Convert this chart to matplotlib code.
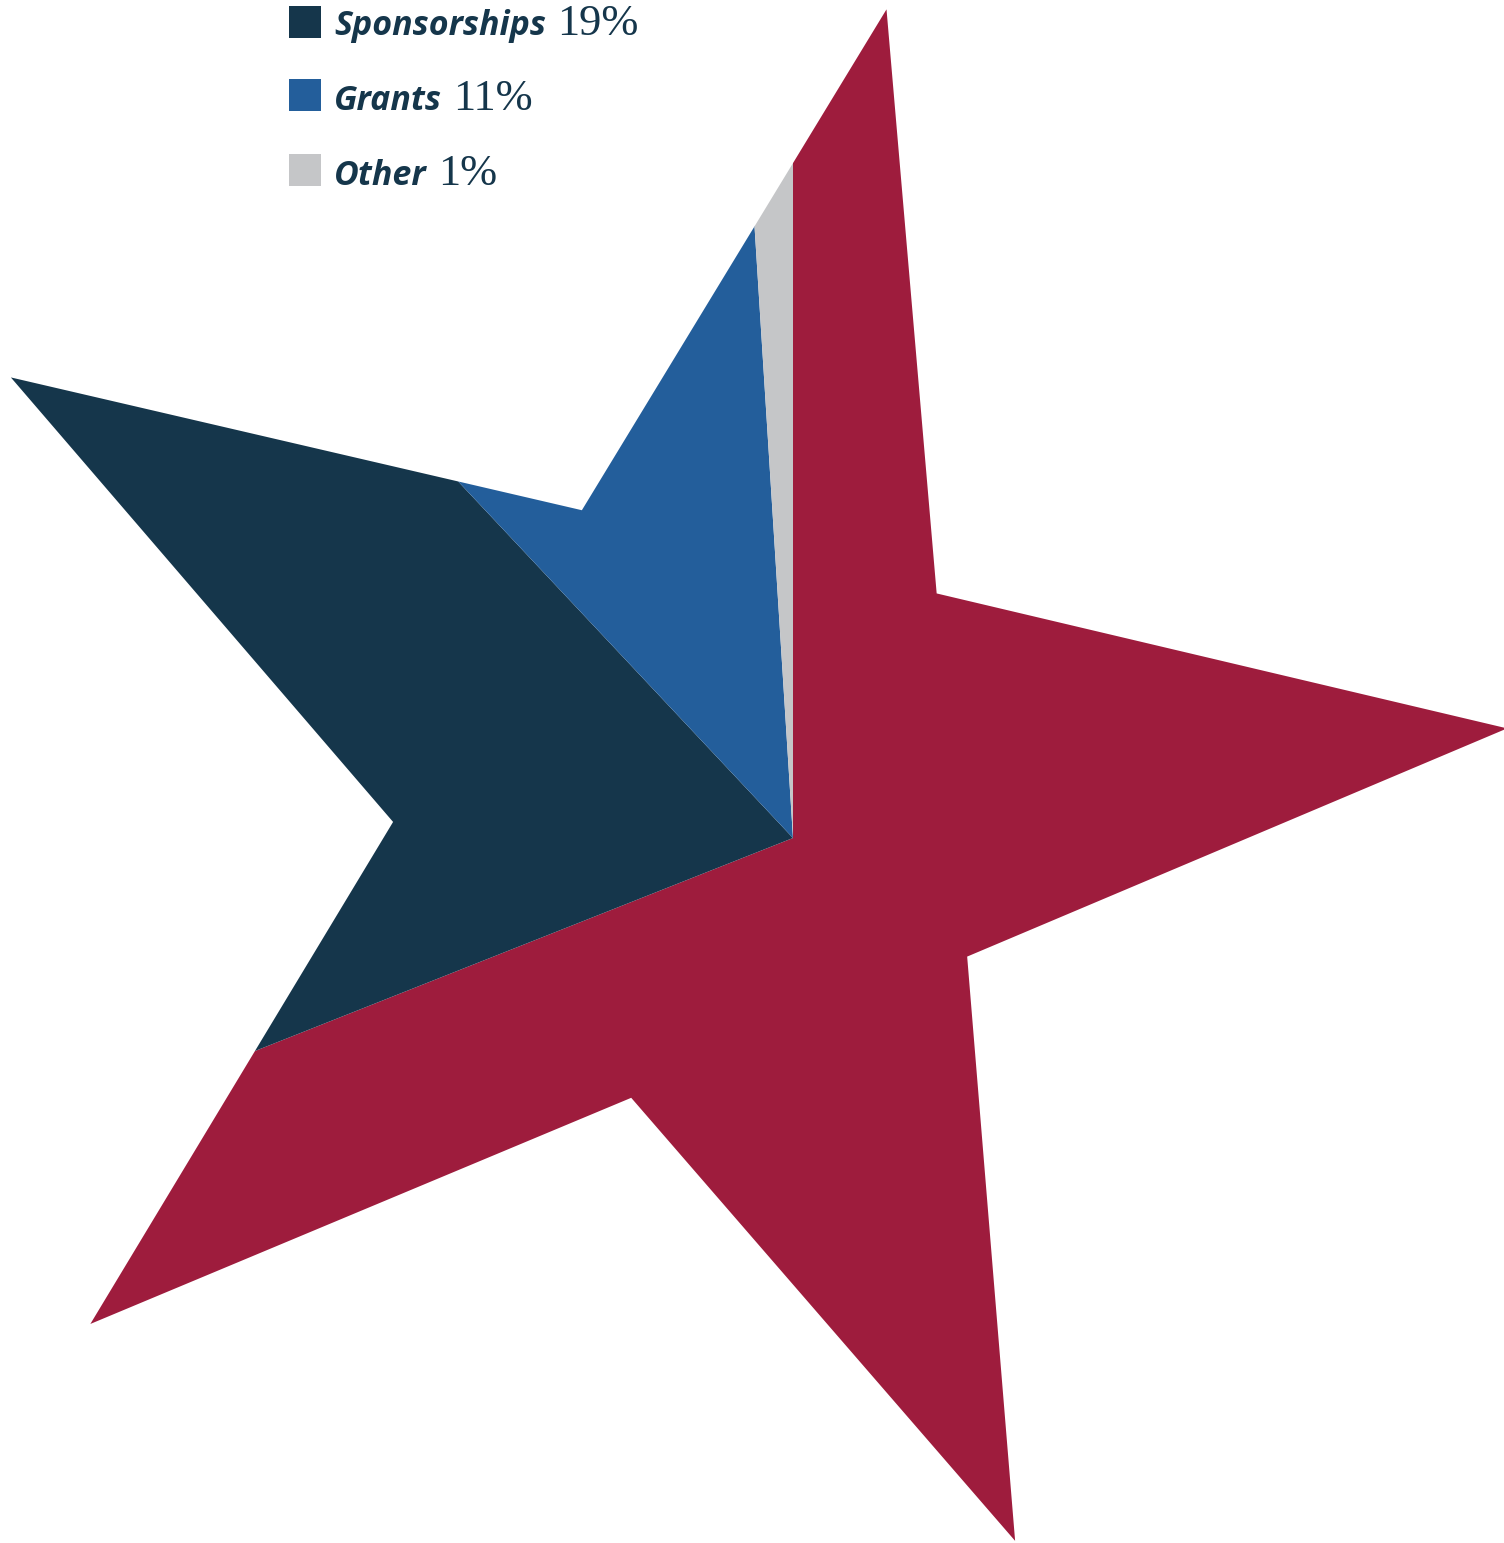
import numpy as np
import matplotlib
matplotlib.use("Agg")
import matplotlib.pyplot as plt
from matplotlib.patches import Polygon, Rectangle

W, H = 1504, 1543

# revenue shares, clockwise from 12 o'clock
labels = ["Events", "Sponsorships", "Grants", "Other"]
values = [69, 19, 11, 1]
colors = ["#9E1C3D", "#15364B", "#235E9B", "#C5C6C8"]
legend_labels = ["Sponsorships", "Grants", "Other"]
legend_pcts = ["19%", "11%", "1%"]
legend_colors = ["#15364B", "#235E9B", "#C5C6C8"]

fig = plt.figure(figsize=(W / 100, H / 100), dpi=100)
ax = fig.add_axes([0, 0, 1, 1])

# star outline used as clip shape (pixel space, y up)
sc = np.array([702, H - 796])
r_out, r_in = 808, 310
ang = np.deg2rad(76.8 + np.arange(10) * 36)
rad = np.where(np.arange(10) % 2 == 0, r_out, r_in)
star_xy = np.column_stack([sc[0] + rad * np.cos(ang), sc[1] + rad * np.sin(ang)])

wedges, _ = ax.pie(values, colors=colors, startangle=90, counterclock=False,
                   radius=1000, center=(793, H - 838), frame=True,
                   wedgeprops=dict(linewidth=0))
ax.set_xlim(0, W)
ax.set_ylim(0, H)
ax.set_aspect("equal")
ax.axis("off")

star = Polygon(star_xy, closed=True, facecolor="none", edgecolor="none")
ax.add_patch(star)
for w in wedges:
    w.set_clip_path(star)
    w.set_clip_on(True)

# legend
box_tops = [6, 79, 154]
baselines = [35, 110, 185]
fig.canvas.draw()
renderer = fig.canvas.get_renderer()
for lab, pct, col, top, base in zip(legend_labels, legend_pcts, legend_colors,
                                    box_tops, baselines):
    ax.add_patch(Rectangle((289, H - top - 32), 32, 32, facecolor=col,
                           edgecolor="none", zorder=5))
    t = ax.text(334, H - base, lab, fontsize=24.5, family="Open Sans", fontweight="bold",
                fontstyle="italic", color="#15364B", va="baseline", ha="left")
    bb = t.get_window_extent(renderer)
    ax.text(bb.x1 + 11, H - base, pct, fontsize=32, family="Liberation Serif",
            color="#15364B", va="baseline", ha="left")

fig.savefig("out.png", dpi=100)
